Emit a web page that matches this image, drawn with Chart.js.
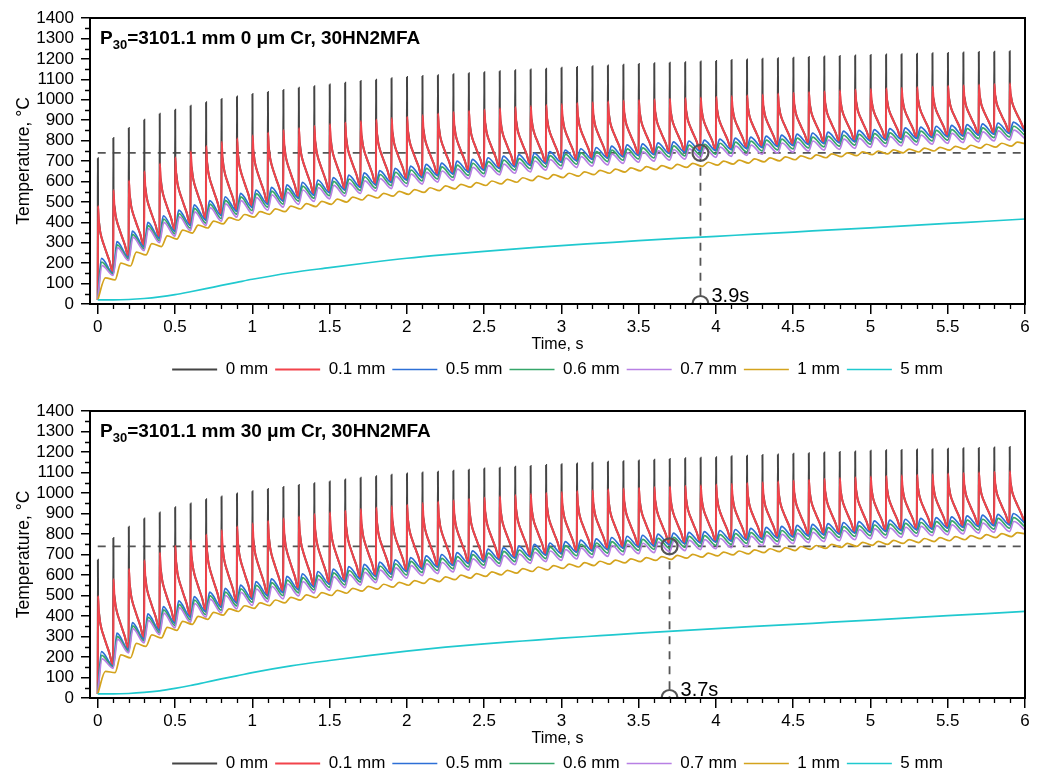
<!DOCTYPE html>
<html>
<head>
<meta charset="utf-8">
<script src="https://cdn.jsdelivr.net/npm/chart.js@4.4.1/dist/chart.umd.min.js"></script>
<style>
html, body { margin: 0; padding: 0; background: #fff; overflow: hidden; }
canvas { display: block; }
</style>
</head>
<body>
<canvas id="chartTop" width="1046" height="388"></canvas>
<canvas id="chartBottom" width="1046" height="394"></canvas>
<script>
// ---- data ----
const seriesNames = ['0 mm', '0.1 mm', '0.5 mm', '0.6 mm', '0.7 mm', '1 mm', '5 mm']
const seriesColors = ['#444444', '#f2434b', '#2d6fd6', '#35a66a', '#b880e4', '#d4a31d', '#20c9cf']

const xTickValues = [0, 0.5, 1, 1.5, 2, 2.5, 3, 3.5, 4, 4.5, 5, 5.5, 6]

// one pulse every 0.1 s
const pulseTimes = [0, 0.1, 0.2, 0.3, 0.4, 0.5, 0.6, 0.7, 0.8, 0.9,
    1.0, 1.1, 1.2, 1.3, 1.4, 1.5, 1.6, 1.7, 1.8, 1.9,
    2.0, 2.1, 2.2, 2.3, 2.4, 2.5, 2.6, 2.7, 2.8, 2.9,
    3.0, 3.1, 3.2, 3.3, 3.4, 3.5, 3.6, 3.7, 3.8, 3.9,
    4.0, 4.1, 4.2, 4.3, 4.4, 4.5, 4.6, 4.7, 4.8, 4.9,
    5.0, 5.1, 5.2, 5.3, 5.4, 5.5, 5.6, 5.7, 5.8, 5.9]

// shape of one pulse, seen on the picture (seconds after the pulse)
const spikeRise = 0.002
const redDecayAt = [0.008, 0.016, 0.026, 0.04, 0.055, 0.075]
const redDecayLeft = [0.76, 0.62, 0.52, 0.42, 0.32, 0.19]
const bumpPeakAt = [0.024, 0.026, 0.028]
const yellowLowAt = 0.012
const yellowPeakAt = 0.05

const cyanTimes = [0, 0.1, 0.2, 0.3, 0.4, 0.5, 0.6, 0.7, 0.8, 0.9, 1.0,
    1.25, 1.5, 1.75, 2, 2.25, 2.5, 2.75, 3, 3.25, 3.5, 3.75, 4, 4.25, 4.5, 4.75, 5, 5.25, 5.5, 5.75, 6]

const markLevel = 740

// ---- top panel: 0 um Cr ----
const titleTop = '=3101.1 mm 0 \u03bcm Cr, 30HN2MFA'
const markTimeTop = 3.9
const blackPeakTop = [714, 813, 862, 902, 931, 951, 970, 988, 1003, 1016,
    1028, 1038, 1048, 1058, 1066, 1074, 1083, 1092, 1098, 1105,
    1111, 1116, 1120, 1125, 1130, 1135, 1139, 1144, 1148, 1152,
    1156, 1160, 1164, 1168, 1171, 1175, 1178, 1181, 1184, 1187,
    1190, 1194, 1197, 1200, 1203, 1206, 1209, 1212, 1214, 1217,
    1219, 1221, 1223, 1225, 1227, 1229, 1231, 1233, 1235, 1237]
const redPeakTop = [480, 558, 605, 650, 688, 718, 748, 773, 794, 811,
    826, 840, 852, 862, 872, 881, 889, 896, 903, 910,
    917, 925, 933, 940, 946, 952, 958, 964, 969, 974,
    979, 984, 988, 992, 996, 999, 1002, 1005, 1008, 1011,
    1014, 1018, 1022, 1026, 1030, 1034, 1038, 1042, 1046, 1050,
    1053, 1056, 1059, 1062, 1065, 1068, 1071, 1074, 1077, 1080]
const blueLowTop = [20, 150, 228, 280, 322, 356, 385, 411, 433, 454,
    472, 489, 504, 518, 532, 545, 558, 571, 583, 595,
    607, 619, 629, 637, 646, 655, 664, 672, 679, 687,
    694, 701, 708, 714, 721, 727, 732, 737, 742, 747,
    751, 756, 761, 766, 771, 776, 781, 786, 790, 795,
    799, 803, 807, 811, 815, 819, 823, 827, 831, 835, 842]
const bluePeakTop = [223, 305, 357, 400, 432, 460, 485, 506, 525, 542,
    558, 571, 583, 596, 607, 619, 631, 642, 653, 664,
    675, 683, 690, 699, 708, 716, 724, 731, 739, 746,
    753, 760, 766, 773, 779, 784, 789, 794, 798, 802,
    807, 812, 817, 822, 827, 832, 837, 841, 846, 850,
    854, 858, 862, 866, 870, 874, 878, 882, 886, 890]
const greenLowTop = [20, 145, 220, 270, 310, 343, 371, 396, 418, 439,
    457, 474, 489, 503, 517, 530, 542, 555, 567, 579,
    590, 602, 612, 620, 629, 638, 647, 655, 662, 670,
    677, 684, 691, 697, 704, 710, 715, 720, 725, 730,
    734, 739, 744, 749, 754, 759, 764, 769, 773, 778,
    782, 786, 790, 794, 798, 802, 806, 810, 814, 818, 825]
const greenPeakTop = [205, 290, 341, 384, 416, 443, 468, 489, 507, 524,
    540, 553, 565, 577, 588, 600, 612, 623, 634, 645,
    656, 664, 671, 680, 689, 697, 705, 712, 720, 726,
    733, 740, 746, 753, 759, 764, 769, 774, 778, 782,
    787, 792, 797, 802, 807, 812, 817, 821, 826, 830,
    834, 838, 842, 846, 850, 854, 858, 862, 866, 870]
const purpleLowTop = [20, 140, 213, 261, 300, 332, 359, 384, 405, 425,
    442, 459, 474, 488, 502, 515, 528, 541, 553, 565,
    575, 587, 597, 605, 614, 623, 632, 640, 647, 655,
    661, 668, 675, 681, 688, 694, 699, 704, 709, 714,
    718, 723, 728, 733, 738, 743, 748, 753, 757, 762,
    766, 770, 774, 778, 782, 786, 790, 794, 798, 802, 809]
const purplePeakTop = [188, 276, 327, 369, 400, 427, 451, 472, 490, 506,
    521, 534, 546, 558, 569, 581, 592, 603, 614, 625,
    636, 644, 651, 660, 669, 677, 685, 692, 700, 707,
    714, 721, 727, 734, 740, 745, 750, 755, 759, 763,
    768, 773, 778, 783, 788, 793, 798, 802, 807, 811,
    815, 819, 823, 827, 831, 835, 839, 843, 847, 851]
const yellowLowTop = [20, 118, 186, 240, 281, 318, 347, 372, 392, 410,
    425, 439, 452, 465, 477, 488, 499, 509, 519, 528,
    537, 546, 555, 564, 572, 580, 588, 596, 604, 612,
    619, 626, 633, 640, 646, 652, 658, 663, 669, 674,
    680, 685, 690, 696, 701, 706, 711, 716, 721, 726,
    731, 735, 740, 744, 749, 753, 758, 763, 768, 773, 785]
const yellowPeakTop = [128, 200, 254, 296, 333, 362, 386, 406, 423, 438,
    452, 466, 479, 491, 502, 513, 523, 533, 542, 551,
    560, 569, 578, 586, 594, 602, 610, 618, 626, 633,
    640, 647, 654, 660, 666, 672, 677, 683, 688, 694,
    699, 704, 710, 715, 720, 725, 730, 735, 740, 745,
    749, 754, 758, 763, 767, 772, 777, 782, 787, 792]
const cyanTop = [20, 20, 22, 27, 35, 46, 60, 75, 91, 106, 121,
    153, 178, 202, 224, 242, 258, 272, 286, 298, 310, 321, 331, 342, 352, 363, 373, 384, 395, 405, 416]

// ---- bottom panel: 30 um Cr ----
const titleBottom = '=3101.1 mm 30 \u03bcm Cr, 30HN2MFA'
const markTimeBottom = 3.7
const blackPeakBottom = [675, 781, 835, 876, 905, 930, 949, 969, 983, 998,
    1008, 1019, 1029, 1039, 1048, 1056, 1066, 1075, 1082, 1089,
    1095, 1100, 1104, 1109, 1114, 1119, 1123, 1128, 1132, 1136,
    1140, 1144, 1148, 1152, 1155, 1159, 1162, 1166, 1169, 1172,
    1175, 1179, 1182, 1185, 1188, 1191, 1194, 1197, 1200, 1203,
    1206, 1208, 1210, 1212, 1214, 1216, 1218, 1220, 1222, 1224]
const redPeakBottom = [498, 581, 630, 672, 710, 743, 771, 798, 820, 838,
    852, 865, 877, 887, 897, 906, 914, 922, 929, 936,
    943, 951, 958, 965, 972, 978, 984, 990, 995, 1000,
    1005, 1010, 1014, 1018, 1022, 1026, 1029, 1032, 1035, 1038,
    1041, 1045, 1049, 1053, 1057, 1061, 1065, 1069, 1073, 1077,
    1080, 1083, 1086, 1089, 1092, 1095, 1098, 1101, 1104, 1107]
const blueLowBottom = [20, 155, 235, 288, 331, 366, 395, 421, 443, 464,
    482, 499, 514, 528, 542, 555, 568, 581, 593, 605,
    617, 629, 639, 647, 656, 665, 674, 682, 689, 697,
    704, 711, 718, 724, 731, 737, 742, 747, 752, 757,
    761, 766, 771, 776, 781, 786, 791, 796, 800, 805,
    809, 813, 817, 821, 825, 829, 833, 837, 841, 845, 852]
const bluePeakBottom = [226, 316, 368, 410, 446, 474, 495, 516, 535, 551,
    568, 581, 593, 606, 617, 629, 641, 652, 663, 674,
    685, 693, 700, 709, 718, 726, 734, 741, 749, 756,
    763, 770, 776, 783, 789, 794, 799, 804, 808, 812,
    817, 822, 827, 832, 837, 842, 847, 851, 856, 860,
    864, 868, 872, 876, 880, 884, 888, 892, 896, 900]
const greenLowBottom = [20, 150, 227, 278, 319, 353, 381, 406, 428, 449,
    467, 484, 499, 513, 527, 540, 552, 565, 577, 589,
    600, 612, 622, 630, 639, 648, 657, 665, 672, 680,
    687, 694, 701, 707, 714, 720, 725, 730, 735, 740,
    744, 749, 754, 759, 764, 769, 774, 779, 783, 788,
    792, 796, 800, 804, 808, 812, 816, 820, 824, 828, 835]
const greenPeakBottom = [208, 301, 352, 394, 430, 457, 478, 499, 517, 533,
    550, 563, 575, 587, 598, 610, 622, 633, 644, 655,
    666, 674, 681, 690, 699, 707, 715, 722, 730, 736,
    743, 750, 756, 763, 769, 774, 779, 784, 788, 792,
    797, 802, 807, 812, 817, 822, 827, 831, 836, 840,
    844, 848, 852, 856, 860, 864, 868, 872, 876, 880]
const purpleLowBottom = [20, 145, 220, 269, 309, 342, 369, 394, 415, 435,
    452, 469, 484, 498, 512, 525, 538, 551, 563, 575,
    585, 597, 607, 615, 624, 633, 642, 650, 657, 665,
    671, 678, 685, 691, 698, 704, 709, 714, 719, 724,
    728, 733, 738, 743, 748, 753, 758, 763, 767, 772,
    776, 780, 784, 788, 792, 796, 800, 804, 808, 812, 819]
const purplePeakBottom = [191, 287, 338, 379, 414, 441, 461, 482, 500, 515,
    531, 544, 556, 568, 579, 591, 602, 613, 624, 635,
    646, 654, 661, 670, 679, 687, 695, 702, 710, 717,
    724, 731, 737, 744, 750, 755, 760, 765, 769, 773,
    778, 783, 788, 793, 798, 803, 808, 812, 817, 821,
    825, 829, 833, 837, 841, 845, 849, 853, 857, 861]
const yellowLowBottom = [20, 124, 196, 252, 293, 330, 359, 384, 404, 422,
    437, 451, 464, 477, 489, 500, 511, 521, 531, 541,
    550, 559, 568, 577, 585, 593, 601, 609, 617, 625,
    632, 639, 646, 653, 659, 665, 671, 676, 682, 687,
    693, 698, 703, 709, 714, 719, 725, 730, 735, 740,
    745, 749, 754, 758, 763, 767, 772, 777, 782, 787, 800]
const yellowPeakBottom = [130, 210, 266, 308, 345, 374, 398, 418, 435, 450,
    464, 478, 491, 503, 514, 525, 535, 545, 555, 564,
    573, 582, 591, 599, 607, 615, 623, 631, 639, 646,
    653, 660, 667, 673, 679, 685, 690, 696, 701, 707,
    712, 717, 723, 728, 734, 739, 744, 749, 754, 759,
    764, 769, 773, 778, 782, 787, 792, 797, 802, 807]
const cyanBottom = [20, 20, 22, 27, 35, 47, 61, 77, 93, 108, 124,
    157, 183, 207, 229, 248, 264, 278, 292, 304, 316, 327, 338, 349, 359, 370, 380, 391, 402, 412, 423]

const fontFamily = '"Liberation Sans", Arial, Helvetica, sans-serif'
Chart.defaults.font.family = fontFamily
Chart.defaults.color = '#000'

// ---- point lists for the library ----
function spikeLine(peaks, lows, tipPeaks) {
    let pts = []
    for (let k = 0; k < pulseTimes.length; k++) {
        let t = pulseTimes[k]
        let next = lows[k + 1]
        pts.push({x: t, y: lows[k]})
        if (tipPeaks) {
            pts.push({x: t + 0.0012, y: tipPeaks[k]})
        }
        pts.push({x: t + spikeRise, y: peaks[k]})
        for (let j = 0; j < redDecayAt.length; j++) {
            pts.push({x: t + redDecayAt[j], y: next + redDecayLeft[j] * (peaks[k] - next)})
        }
    }
    pts.push({x: 6, y: lows[lows.length - 1]})
    return pts
}

function bumpLine(peaks, lows, peakAt) {
    let pts = []
    for (let k = 0; k < pulseTimes.length; k++) {
        pts.push({x: pulseTimes[k], y: lows[k]})
        pts.push({x: pulseTimes[k] + peakAt, y: peaks[k]})
    }
    pts.push({x: 6, y: lows[lows.length - 1]})
    return pts
}

function yellowLine(peaks, lows) {
    let pts = []
    for (let k = 0; k < pulseTimes.length; k++) {
        pts.push({x: k == 0 ? 0 : pulseTimes[k] + yellowLowAt, y: lows[k]})
        pts.push({x: pulseTimes[k] + yellowPeakAt, y: peaks[k]})
    }
    pts.push({x: 6, y: lows[lows.length - 1]})
    return pts
}

function pairs(xs, ys) {
    return xs.map((x, i) => ({x: x, y: ys[i]}))
}

// draws the frame, minor ticks, inner title and the time label
const decoPlugin = {
    id: 'deco',
    afterDatasetsDraw(chart, args, opts) {
        const ctx = chart.ctx
        const a = chart.chartArea
        const xs = chart.scales.x
        const ys = chart.scales.y
        ctx.save()

        // minor ticks
        ctx.strokeStyle = '#000'
        ctx.lineWidth = 1.3
        ctx.beginPath()
        for (let i = 0; i < xTickValues.length - 1; i++) {
            for (let j = 1; j < 5; j++) {
                let px = Math.round(xs.getPixelForValue(xTickValues[i] + (xTickValues[i + 1] - xTickValues[i]) * j / 5)) + 0.5
                ctx.moveTo(px, a.bottom)
                ctx.lineTo(px, a.bottom + 5)
            }
        }
        for (let v = 50; v < 1400; v += 100) {
            let py = Math.round(ys.getPixelForValue(v)) + 0.5
            ctx.moveTo(a.left, py)
            ctx.lineTo(a.left - 5, py)
        }
        ctx.stroke()

        // frame
        ctx.lineWidth = 2
        ctx.strokeRect(a.left, a.top, a.right - a.left, a.bottom - a.top)

        // inner title with subscript
        let tx = a.left + 10
        let ty = a.top + 21
        ctx.fillStyle = '#000'
        ctx.textBaseline = 'middle'
        ctx.font = 'bold 19px ' + fontFamily
        ctx.fillText('P', tx, ty)
        tx += ctx.measureText('P').width
        ctx.font = 'bold 13px ' + fontFamily
        ctx.fillText('30', tx, ty + 6)
        tx += ctx.measureText('30').width
        ctx.font = 'bold 19px ' + fontFamily
        ctx.fillText(opts.title, tx, ty)

        // time label next to the lower circle
        ctx.font = '20px ' + fontFamily
        ctx.textBaseline = 'alphabetic'
        ctx.fillText(opts.markTime + 's', xs.getPixelForValue(opts.markTime) + 11, a.bottom - 2)
        ctx.restore()
    }
}

function makeChart(canvasId, p, padTop) {
    const shapes = [
        spikeLine(p.redPeak, p.blueLow, p.blackPeak),
        spikeLine(p.redPeak, p.blueLow),
        bumpLine(p.bluePeak, p.blueLow, bumpPeakAt[0]),
        bumpLine(p.greenPeak, p.greenLow, bumpPeakAt[1]),
        bumpLine(p.purplePeak, p.purpleLow, bumpPeakAt[2]),
        yellowLine(p.yellowPeak, p.yellowLow),
        pairs(cyanTimes, p.cyan)
    ]
    let datasets = shapes.map((pts, i) => ({
        label: seriesNames[i],
        data: pts,
        borderColor: seriesColors[i],
        backgroundColor: seriesColors[i],
        borderWidth: i < 2 ? 2 : 1.7,
        pointRadius: 0,
        cubicInterpolationMode: 'monotone',
        order: 7 - i
    }))
    datasets.push({
        label: 'level',
        data: [{x: 0, y: markLevel}, {x: 6, y: markLevel}],
        borderColor: '#555',
        borderWidth: 1.8,
        borderDash: [8, 7],
        pointRadius: 0,
        order: 20
    })
    datasets.push({
        label: 'drop',
        data: [{x: p.markTime, y: markLevel}, {x: p.markTime, y: 0}],
        borderColor: '#555',
        borderWidth: 1.8,
        borderDash: [8, 7],
        pointRadius: 0,
        order: 20
    })
    datasets.push({
        label: 'marks',
        data: [{x: p.markTime, y: markLevel}, {x: p.markTime, y: 0}],
        showLine: false,
        pointRadius: 8,
        pointBorderWidth: 2.2,
        pointBorderColor: '#555',
        pointBackgroundColor: 'rgba(0,0,0,0)',
        order: 0
    })

    return new Chart(document.getElementById(canvasId), {
        type: 'line',
        data: {datasets: datasets},
        plugins: [decoPlugin],
        options: {
            responsive: false,
            animation: false,
            events: [],
            layout: {padding: {top: padTop, right: 21, left: 0, bottom: 0}},
            plugins: {
                tooltip: {enabled: false},
                deco: {title: p.title, markTime: p.markTime},
                legend: {
                    position: 'bottom',
                    fullSize: false,
                    labels: {
                        usePointStyle: true,
                        pointStyle: 'line',
                        pointStyleWidth: 45,
                        padding: 7,
                        color: '#000',
                        font: {size: 17},
                        filter: item => item.datasetIndex < 7,
                        sort: (a, b) => a.datasetIndex - b.datasetIndex
                    }
                }
            },
            scales: {
                x: {
                    type: 'linear',
                    min: -0.05,
                    max: 6,
                    afterBuildTicks: s => { s.ticks = xTickValues.map(v => ({value: v})) },
                    afterFit: s => { s.height = 50 },
                    grid: {drawOnChartArea: false, drawTicks: true, tickLength: 10, color: '#000', lineWidth: 1.5},
                    border: {display: true, color: '#000', width: 2},
                    ticks: {font: {size: 17}, padding: 3, maxRotation: 0, autoSkip: false, color: '#000',
                        callback: v => String(v)},
                    title: {display: true, text: 'Time, s', font: {size: 16}, padding: 0, color: '#000'}
                },
                y: {
                    min: 0,
                    max: 1400,
                    afterFit: s => { s.width = 90 },
                    grid: {drawOnChartArea: false, drawTicks: true, tickLength: 9, color: '#000', lineWidth: 1.5},
                    border: {display: true, color: '#000', width: 2},
                    ticks: {stepSize: 100, autoSkip: false, font: {size: 17}, padding: 7, color: '#000',
                        callback: v => String(v)},
                    title: {display: true, text: 'Temperature, \u00b0C', font: {size: 17.5}, padding: {top: 14, bottom: 0}, color: '#000'}
                }
            }
        }
    })
}

makeChart('chartTop', {
    title: titleTop, markTime: markTimeTop,
    blackPeak: blackPeakTop, redPeak: redPeakTop,
    blueLow: blueLowTop, bluePeak: bluePeakTop,
    greenLow: greenLowTop, greenPeak: greenPeakTop,
    purpleLow: purpleLowTop, purplePeak: purplePeakTop,
    yellowLow: yellowLowTop, yellowPeak: yellowPeakTop,
    cyan: cyanTop
}, 18)

makeChart('chartBottom', {
    title: titleBottom, markTime: markTimeBottom,
    blackPeak: blackPeakBottom, redPeak: redPeakBottom,
    blueLow: blueLowBottom, bluePeak: bluePeakBottom,
    greenLow: greenLowBottom, greenPeak: greenPeakBottom,
    purpleLow: purpleLowBottom, purplePeak: purplePeakBottom,
    yellowLow: yellowLowBottom, yellowPeak: yellowPeakBottom,
    cyan: cyanBottom
}, 23)
</script>
</body>
</html>
